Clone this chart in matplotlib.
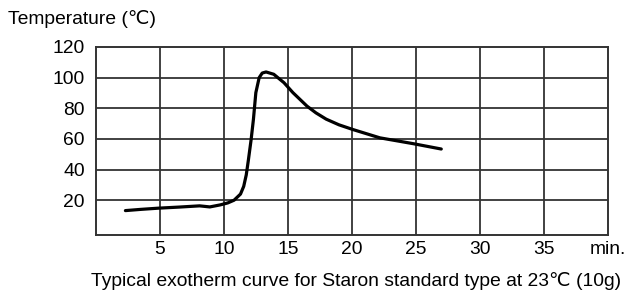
import matplotlib
matplotlib.use("Agg")
import matplotlib.pyplot as plt

time_min = [2.3, 3.5, 4.9, 6.5, 8.1, 8.9, 9.7, 10.3, 10.8, 11.3, 11.55, 11.75, 11.92,
            12.13, 12.31, 12.5, 12.76, 13.0, 13.3, 13.9, 14.7, 15.4, 16.5, 17.2, 18.0,
            19.0, 20.1, 22.2, 24.8, 27.0]
temp_c = [13.2, 14.0, 14.8, 15.5, 16.3, 15.6, 16.9, 18.2, 20.0, 24.0, 29.0, 36.5, 46.4,
          59.5, 72.7, 90.2, 100.0, 103.0, 103.7, 102.2, 96.7, 90.2, 81.4, 77.0, 72.9,
          69.2, 66.1, 60.7, 56.9, 53.4]

x_ticks = [5, 10, 15, 20, 25, 30, 35]
y_ticks = [20, 40, 60, 80, 100, 120]

fam = ['Liberation Sans', 'DejaVu Sans']
fs = 13.9

fig = plt.figure(figsize=(6.29, 2.90), dpi=100)
ax = fig.add_axes([96/629, 1-234.5/290, (607.5-96)/629, (234.5-47)/290])
ax.set_xlim(0, 40)
ax.set_ylim(-2.4, 120)

gc = '#333333'
for xv in x_ticks:
    ax.axvline(xv, color=gc, lw=1.3, zorder=1)
for yv in y_ticks[:-1]:
    ax.axhline(yv, color=gc, lw=1.3, zorder=1)
for s in ax.spines.values():
    s.set_color(gc)
    s.set_linewidth(1.4)

ax.plot(time_min, temp_c, color='black', lw=2.3, solid_capstyle='round',
        solid_joinstyle='round', zorder=3)

ax.set_xticks(x_ticks + [40])
ax.set_xticklabels([str(v) for v in x_ticks] + ['min.'], family=fam, fontsize=fs)
ax.set_yticks(y_ticks)
ax.set_yticklabels([str(v) for v in y_ticks], family=fam, fontsize=fs)
ax.tick_params(length=0, pad=5)
ax.tick_params(axis='y', pad=8)

fig.text(8/629, 1-19/290, 'Temperature (℃)', family=fam, fontsize=fs, va='center', ha='left')
fig.text(356/629, 1-281/290, 'Typical exotherm curve for Staron standard type at 23℃ (10g)',
         family=fam, fontsize=fs, va='center', ha='center')

fig.savefig('out.png', dpi=100, facecolor='white')
